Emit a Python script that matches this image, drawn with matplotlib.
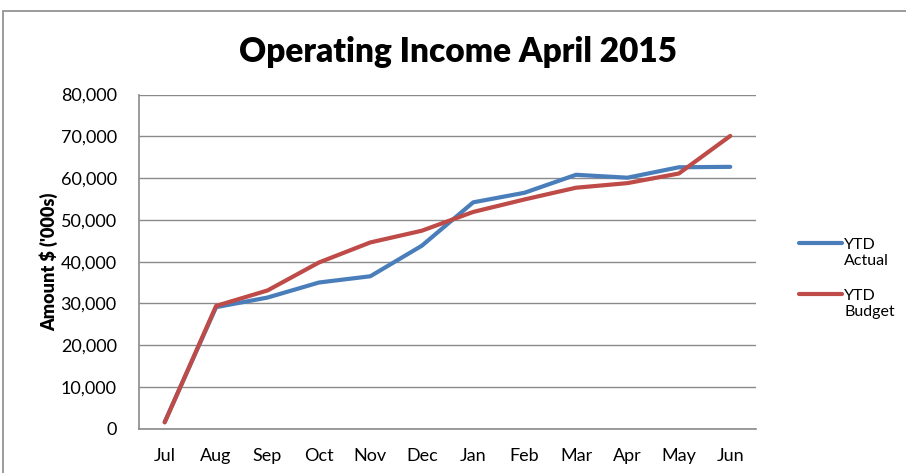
#!/usr/bin/env python3

import numpy as np
import matplotlib.pyplot as plt
from matplotlib.patches import Rectangle

plt.rcParams['font.family'] = ['Lato', 'DejaVu Sans']

months = ["Jul", "Aug", "Sep", "Oct", "Nov", "Dec", "Jan", "Feb", "Mar", "Apr", "May", "Jun"]
ytd = {
	"YTD\nActual": ([1600, 29100, 31400, 35000, 36500, 43800, 54200, 56500, 60800, 60100, 62600, 62700], '#4A7EBB'),
	"YTD\nBudget": ([1500, 29400, 33100, 39800, 44600, 47400, 51900, 54900, 57700, 58800, 61100, 70100], '#BE4B48'),
}

fig = plt.figure(figsize=(9.06, 4.73), dpi=100)
ax = fig.add_axes([0.1534, 0.0937, 0.681, 0.7063])

x = np.arange(len(months))
for k, (v, c) in ytd.items() :
	ax.plot(x, v, '-', color=c, lw=3, label=k, solid_capstyle='round', solid_joinstyle='round')

ax.set_xlim(-0.5, len(months) - 0.5)
ax.set_ylim(0, 80000)
ax.set_yticks(np.arange(0, 80001, 10000))
ax.set_yticklabels([f"{t:,}" for t in range(0, 80001, 10000)])
ax.set_xticks(x)
ax.set_xticklabels(months)
ax.tick_params(length=0, labelsize=13, colors='black')
ax.tick_params(axis='y', pad=16)
ax.tick_params(axis='x', pad=14)
ax.grid(axis='y', color='#8a8a8a', lw=1)
ax.set_axisbelow(True)
for s in ('top', 'right') :
	ax.spines[s].set_visible(False)
for s in ('left', 'bottom') :
	ax.spines[s].set_color('#8a8a8a')
	ax.spines[s].set_linewidth(1.2)

ax.set_ylabel("Amount $ ('000s)", fontsize=13, fontweight='heavy', labelpad=2)
fig.text(0.505, 0.89, "Operating Income April 2015", ha='center', va='center', fontsize=24, fontweight='heavy')

leg = ax.legend(loc='center left', bbox_to_anchor=(1.047, 0.45), frameon=False, fontsize=11.5,
	handlelength=2.7, handletextpad=0.1, labelspacing=1.3)
for col in leg._legend_handle_box.get_children() :
	for row in col.get_children() :
		row.align = 'top'

fig.patches.append(Rectangle((3 / 906, -0.1), 1.2, 1 - 11 / 473 + 0.1, transform=fig.transFigure,
	fill=False, edgecolor='#8a8a8a', lw=1.2))

plt.savefig('out.png')
